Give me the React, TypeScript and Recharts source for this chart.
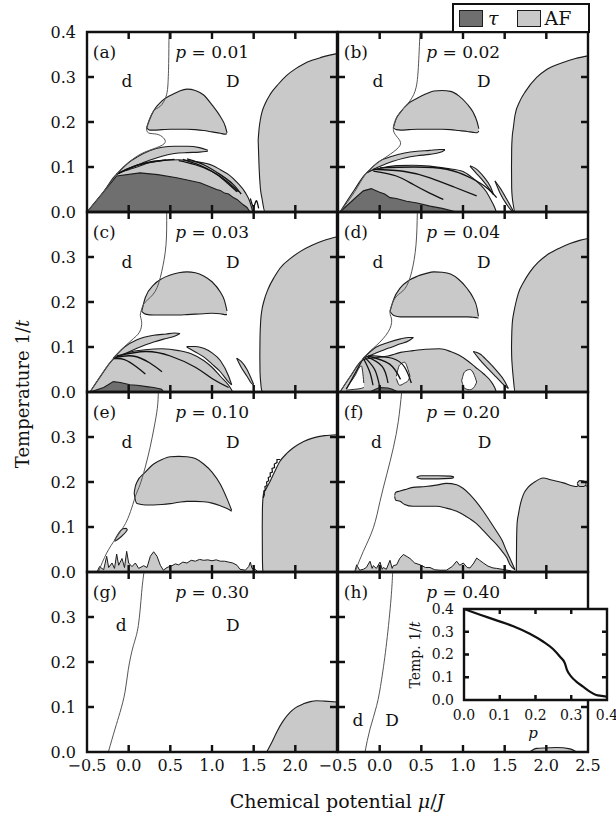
import React from "react";
import {
  Area,
  ComposedChart,
  Line,
  ReferenceArea,
  ReferenceDot,
  XAxis,
  YAxis,
} from "recharts";

type Pt = number[];

// (a) p = 0.01   [x, hi] rows sit on y=0, [x, lo, hi] rows are closed blobs
const lineA: Pt[] = [[0.484, 0.4], [0.48, 0.33], [0.47, 0.28], [0.445, 0.255], [0.38, 0.235], [0.296, 0.224], [0.236, 0.199], [0.216, 0.187], [0.236, 0.176], [0.336, 0.173], [0.416, 0.165], [0.436, 0.154], [0.336, 0.143], [0.136, 0.128], [-0.024, 0.106], [-0.144, 0.084], [-0.3, 0.045], [-0.5, 0]];
const mushA: Pt[] = [[0.216, 0.187, 0.187], [0.25, 0.182, 0.205], [0.3, 0.182, 0.225], [0.4, 0.183, 0.247], [0.5, 0.184, 0.259], [0.6, 0.184, 0.268], [0.7, 0.184, 0.273], [0.8, 0.183, 0.27], [0.9, 0.181, 0.26], [1.0, 0.178, 0.238], [1.1, 0.175, 0.212], [1.16, 0.173, 0.19], [1.18, 0.174, 0.176]];
const bananaA: Pt[] = [[-0.144, 0.084, 0.084], [0.0, 0.096, 0.11], [0.1, 0.104, 0.122], [0.25, 0.115, 0.136], [0.4, 0.124, 0.144], [0.55, 0.13, 0.146], [0.7, 0.132, 0.146], [0.85, 0.133, 0.143], [0.95, 0.135, 0.137]];
const bandA: Pt[] = [[-0.5, 0], [-0.3, 0.045], [-0.144, 0.084], [0.0, 0.094], [0.1, 0.1], [0.25, 0.11], [0.4, 0.114], [0.6, 0.116], [0.8, 0.112], [1.0, 0.104], [1.1, 0.094], [1.2, 0.083], [1.3, 0.066], [1.4, 0.043], [1.45, 0.025], [1.49, 0]];
const tauA: Pt[] = [[-0.5, 0], [-0.144, 0.08], [0.136, 0.087], [0.35, 0.083], [0.576, 0.076], [0.856, 0.065], [1.056, 0.05], [1.1, 0.048], [1.15, 0.042], [1.2, 0.04], [1.256, 0.032], [1.3, 0.028], [1.376, 0.016], [1.42, 0.01], [1.456, 0]];
const domeA: Pt[] = [[1.554, 0.16, 0.16], [1.565, 0.1, 0.185], [1.58, 0.054, 0.205], [1.6, 0.03, 0.222], [1.636, 0, 0.24], [1.7, 0, 0.262], [1.8, 0, 0.285], [1.9, 0, 0.304], [2.0, 0, 0.318], [2.1, 0, 0.329], [2.2, 0, 0.337], [2.3, 0, 0.343], [2.4, 0, 0.348], [2.5, 0, 0.352]];
const strandsA: Pt[][] = [
  [[-0.144, 0.084], [0.0, 0.097], [0.2, 0.108], [0.45, 0.116]],
  [[-0.12, 0.086], [0.1, 0.104], [0.3, 0.113], [0.55, 0.117]],
  [[0.6, 0.114], [0.8, 0.105], [1.0, 0.09], [1.15, 0.07], [1.3, 0.045]],
  [[0.65, 0.117], [0.85, 0.104], [1.05, 0.085], [1.2, 0.065], [1.32, 0.045]],
  [[0.7, 0.118], [0.9, 0.105], [1.1, 0.083], [1.25, 0.062], [1.35, 0.04]],
  [[1.46, 0.03], [1.5, 0.012], [1.53, 0.025], [1.56, 0.008]],
];

// (b) p = 0.02
const lineB: Pt[] = [[0.484, 0.4], [0.464, 0.321], [0.436, 0.276], [0.364, 0.247], [0.244, 0.221], [0.184, 0.202], [0.164, 0.187], [0.184, 0.173], [0.244, 0.158], [0.224, 0.143], [0.1, 0.125], [0.004, 0.113], [-0.156, 0.087], [-0.3, 0.045], [-0.476, 0]];
const mushB: Pt[] = [[0.164, 0.187, 0.187], [0.2, 0.183, 0.208], [0.25, 0.182, 0.222], [0.35, 0.183, 0.242], [0.45, 0.184, 0.253], [0.55, 0.184, 0.262], [0.65, 0.184, 0.269], [0.75, 0.184, 0.27], [0.85, 0.183, 0.268], [0.95, 0.181, 0.258], [1.05, 0.179, 0.24], [1.12, 0.177, 0.222], [1.17, 0.176, 0.2], [1.19, 0.18, 0.185]];
const bananaB: Pt[] = [[-0.156, 0.087, 0.087], [0.0, 0.101, 0.113], [0.15, 0.112, 0.124], [0.3, 0.12, 0.131], [0.45, 0.125, 0.135], [0.6, 0.128, 0.137], [0.72, 0.132, 0.139], [0.784, 0.138, 0.139]];
const bandB: Pt[] = [[-0.476, 0], [-0.3, 0.05], [-0.156, 0.087], [0.0, 0.097], [0.2, 0.103], [0.4, 0.104], [0.6, 0.102], [0.8, 0.097], [1.0, 0.09], [1.1, 0.078], [1.2, 0.062], [1.28, 0.045], [1.34, 0.025], [1.38, 0.01], [1.4, 0]];
const thinB1: Pt[] = [[1.084, 0.102, 0.103], [1.15, 0.088, 0.097], [1.25, 0.067, 0.078], [1.33, 0.048, 0.056], [1.364, 0.039, 0.04]];
const thinB2: Pt[] = [[1.384, 0.069, 0.069], [1.45, 0.04, 0.052], [1.52, 0.018, 0.03], [1.58, 0.004, 0.01], [1.604, 0.002, 0.002]];
const tauB: Pt[] = [[-0.476, 0], [-0.3, 0.03], [-0.196, 0.047], [-0.1, 0.052], [-0.05, 0.048], [0.0, 0.044], [0.06, 0.04], [0.124, 0.032], [0.2, 0.03], [0.324, 0.024], [0.45, 0.02], [0.604, 0.013], [0.75, 0.008], [0.924, 0]];
const domeB: Pt[] = [[1.582, 0.1, 0.1], [1.584, 0.054, 0.14], [1.59, 0.035, 0.165], [1.604, 0.015, 0.187], [1.624, 0, 0.215], [1.684, 0, 0.247], [1.75, 0, 0.268], [1.884, 0, 0.299], [2.0, 0, 0.316], [2.2, 0, 0.332], [2.35, 0, 0.341], [2.5, 0, 0.347]];
const strandsB: Pt[][] = [
  [[-0.076, 0.091], [0.2, 0.08], [0.404, 0.061], [0.6, 0.042], [0.764, 0.028]],
  [[-0.076, 0.095], [0.3, 0.09], [0.604, 0.076], [0.9, 0.055], [1.164, 0.036]],
  [[0.004, 0.098], [0.4, 0.1], [0.804, 0.095], [1.1, 0.075], [1.284, 0.054], [1.404, 0.032]],
];

// (c) p = 0.03
const lineC: Pt[] = [[0.456, 0.4], [0.448, 0.327], [0.396, 0.267], [0.316, 0.223], [0.2, 0.2], [0.156, 0.184], [0.14, 0.17], [0.156, 0.155], [0.13, 0.133], [0.016, 0.112], [-0.184, 0.075], [-0.33, 0.038], [-0.464, 0]];
const mushC: Pt[] = [[0.156, 0.179, 0.179], [0.2, 0.173, 0.21], [0.3, 0.171, 0.238], [0.4, 0.171, 0.252], [0.5, 0.171, 0.26], [0.6, 0.171, 0.265], [0.7, 0.172, 0.267], [0.8, 0.173, 0.265], [0.9, 0.174, 0.258], [1.0, 0.175, 0.245], [1.1, 0.174, 0.222], [1.15, 0.172, 0.203], [1.18, 0.172, 0.18]];
const bananaC: Pt[] = [[-0.184, 0.075, 0.075], [-0.05, 0.085, 0.1], [0.1, 0.097, 0.116], [0.3, 0.111, 0.126], [0.45, 0.119, 0.129], [0.55, 0.124, 0.131], [0.616, 0.13, 0.13]];
const bandC: Pt[] = [[-0.464, 0], [-0.33, 0.037], [-0.184, 0.073], [0.0, 0.088], [0.2, 0.094], [0.4, 0.096], [0.6, 0.092], [0.75, 0.085], [0.9, 0.07], [1.0, 0.055], [1.1, 0.035], [1.2, 0.015], [1.25, 0]];
const thinC1: Pt[] = [[0.696, 0.1, 0.101], [0.8, 0.089, 0.101], [0.9, 0.078, 0.097], [1.0, 0.062, 0.087], [1.1, 0.045, 0.07], [1.2, 0.022, 0.035], [1.236, 0.016, 0.016]];
const thinC2: Pt[] = [[1.296, 0.075, 0.075], [1.35, 0.055, 0.068], [1.42, 0.035, 0.05], [1.47, 0.02, 0.03], [1.5, 0.015, 0.017]];
const tauC: Pt[] = [[-0.464, 0], [-0.3, 0.01], [-0.184, 0.023], [-0.1, 0.021], [0.016, 0.016], [0.1, 0.015], [0.216, 0.012], [0.3, 0.01], [0.396, 0.006], [0.42, 0]];
const domeC: Pt[] = [[1.574, 0.08, 0.08], [1.576, 0.045, 0.12], [1.585, 0.02, 0.16], [1.596, 0.004, 0.179], [1.62, 0, 0.2], [1.676, 0, 0.23], [1.75, 0, 0.256], [1.816, 0, 0.275], [1.95, 0, 0.298], [2.056, 0, 0.312], [2.2, 0, 0.326], [2.35, 0, 0.337], [2.5, 0, 0.345]];
const strandsC: Pt[][] = [
  [[-0.18, 0.074], [-0.05, 0.072], [0.1, 0.055], [0.2, 0.04]],
  [[-0.16, 0.077], [0.05, 0.08], [0.25, 0.065], [0.4, 0.045]],
  [[-0.14, 0.08], [0.2, 0.09], [0.5, 0.08], [0.8, 0.055], [1.0, 0.03], [1.2, 0.01]],
];

// (d) p = 0.04
const lineD: Pt[] = [[0.452, 0.4], [0.436, 0.327], [0.384, 0.267], [0.304, 0.23], [0.204, 0.213], [0.144, 0.193], [0.124, 0.175], [0.144, 0.16], [0.104, 0.134], [-0.036, 0.104], [-0.196, 0.075], [-0.396, 0.023], [-0.476, 0]];
const mushD: Pt[] = [[0.124, 0.179, 0.179], [0.17, 0.17, 0.207], [0.25, 0.167, 0.232], [0.35, 0.167, 0.248], [0.45, 0.167, 0.257], [0.55, 0.167, 0.263], [0.65, 0.167, 0.267], [0.75, 0.167, 0.266], [0.85, 0.167, 0.262], [0.95, 0.167, 0.25], [1.05, 0.167, 0.23], [1.12, 0.166, 0.21], [1.17, 0.165, 0.185], [1.185, 0.164, 0.168]];
const bananaD: Pt[] = [[-0.196, 0.075, 0.075], [-0.05, 0.086, 0.099], [0.1, 0.097, 0.11], [0.25, 0.107, 0.118], [0.35, 0.114, 0.121], [0.404, 0.121, 0.121]];
const bandD: Pt[] = [[-0.476, 0], [-0.35, 0.035], [-0.196, 0.072], [-0.05, 0.076], [0.1, 0.08], [0.25, 0.088], [0.4, 0.092], [0.55, 0.095], [0.72, 0.096], [0.85, 0.09], [0.95, 0.082], [1.05, 0.07], [1.15, 0.055], [1.25, 0.04], [1.33, 0.025], [1.38, 0.01], [1.4, 0]];
const thinD1: Pt[] = [[1.124, 0.09, 0.09], [1.2, 0.072, 0.085], [1.3, 0.052, 0.068], [1.4, 0.033, 0.048], [1.5, 0.014, 0.024], [1.544, 0.008, 0.008]];
const holeD1: Pt[] = [[0.984, 0.025, 0.025], [1.02, 0.008, 0.045], [1.08, 0.005, 0.05], [1.13, 0.01, 0.04], [1.164, 0.022, 0.022]];
const holeD2: Pt[] = [[-0.4, 0.004, 0.008], [-0.3, 0.006, 0.035], [-0.22, 0.008, 0.058], [-0.19, 0.01, 0.02]];
const holeD3: Pt[] = [[0.2, 0.03, 0.035], [0.24, 0.015, 0.06], [0.3, 0.02, 0.066], [0.34, 0.025, 0.05], [0.364, 0.035, 0.035]];
const tauD: Pt[] = [[-0.12, 0], [-0.05, 0.006], [0.0, 0.01], [0.1, 0.009], [0.15, 0.006], [0.22, 0]];
const domeD: Pt[] = [[1.582, 0.1, 0.1], [1.584, 0.08, 0.12], [1.59, 0.06, 0.15], [1.604, 0.03, 0.171], [1.624, 0, 0.19], [1.664, 0, 0.219], [1.73, 0, 0.245], [1.804, 0, 0.267], [1.9, 0, 0.288], [2.004, 0, 0.304], [2.15, 0, 0.319], [2.284, 0, 0.33], [2.4, 0, 0.337], [2.5, 0, 0.341]];
const strandsD: Pt[][] = [
  [[-0.196, 0.075], [-0.12, 0.045], [-0.08, 0.015]],
  [[-0.18, 0.077], [-0.06, 0.05], [0.0, 0.012]],
  [[-0.16, 0.079], [0.03, 0.057], [0.1, 0.02]],
  [[-0.14, 0.08], [0.12, 0.062], [0.25, 0.028]],
  [[-0.12, 0.081], [0.15, 0.075], [0.3, 0.055], [0.38, 0.02]],
  [[-0.196, 0.075], [-0.3, 0.04], [-0.4, 0.006]],
];

// (e) p = 0.10
const lineE: Pt[] = [[0.356, 0.4], [0.344, 0.364], [0.304, 0.32], [0.256, 0.276], [0.196, 0.231], [0.136, 0.194], [0.088, 0.172], [0.036, 0.142], [-0.024, 0.113], [-0.084, 0.094], [-0.164, 0.072], [-0.264, 0.042], [-0.364, 0]];
const tearE: Pt[] = [[-0.17, 0.068, 0.07], [-0.12, 0.074, 0.086], [-0.07, 0.082, 0.096], [-0.03, 0.09, 0.097], [-0.015, 0.094, 0.094]];
const mushE: Pt[] = [[0.066, 0.176, 0.176], [0.08, 0.16, 0.19], [0.1, 0.152, 0.2], [0.2, 0.149, 0.222], [0.3, 0.149, 0.24], [0.4, 0.15, 0.25], [0.5, 0.152, 0.256], [0.6, 0.155, 0.257], [0.7, 0.157, 0.256], [0.8, 0.157, 0.252], [0.9, 0.156, 0.24], [1.0, 0.153, 0.222], [1.1, 0.147, 0.195], [1.18, 0.141, 0.163], [1.236, 0.135, 0.137]];
const scribE: Pt[] = [[-0.38, 0], [-0.35, 0.012], [-0.3, 0.005], [-0.264, 0.035], [-0.24, 0.01], [-0.2, 0.02], [-0.17, 0.008], [-0.144, 0.04], [-0.12, 0.015], [-0.08, 0.03], [-0.05, 0.01], [-0.024, 0.046], [0.0, 0.02], [0.04, 0.012], [0.08, 0.02], [0.12, 0.008], [0.18, 0.014], [0.22, 0.01], [0.26, 0.035], [0.3, 0.045], [0.34, 0.035], [0.38, 0.015], [0.416, 0.004], [0.46, 0.01], [0.52, 0.014], [0.56, 0.018], [0.6, 0.016], [0.65, 0.022], [0.7, 0.02], [0.75, 0.026], [0.8, 0.024], [0.85, 0.028], [0.9, 0.026], [0.95, 0.027], [1.0, 0.025], [1.05, 0.027], [1.1, 0.024], [1.15, 0.024], [1.2, 0.022], [1.25, 0.02], [1.3, 0.015], [1.336, 0.006], [1.4, 0.004], [1.44, 0.012], [1.46, 0.022], [1.48, 0.008], [1.52, 0.006], [1.55, 0]];
const domeE: Pt[] = [[1.603, 0.1, 0.1], [1.605, 0.03, 0.14], [1.61, 0.003, 0.16], [1.616, 0, 0.172], [1.65, 0, 0.185], [1.696, 0, 0.201], [1.75, 0, 0.222], [1.816, 0, 0.246], [1.9, 0, 0.264], [1.976, 0, 0.276], [2.1, 0, 0.29], [2.216, 0, 0.298], [2.35, 0, 0.303], [2.5, 0, 0.305]];
const squigE: Pt[] = [[1.615, 0.165], [1.628, 0.172], [1.622, 0.18], [1.64, 0.183], [1.635, 0.19], [1.66, 0.192], [1.655, 0.2], [1.68, 0.203], [1.675, 0.21], [1.7, 0.212], [1.698, 0.22], [1.725, 0.222], [1.72, 0.23], [1.75, 0.232], [1.748, 0.24], [1.78, 0.243], [1.78, 0.25], [1.82, 0.25]];

// (f) p = 0.20
const lineF: Pt[] = [[0.264, 0.4], [0.224, 0.335], [0.164, 0.276], [0.084, 0.216], [0.004, 0.157], [-0.076, 0.098], [-0.196, 0.046], [-0.296, 0]];
const lensF: Pt[] = [[0.444, 0.21, 0.211], [0.5, 0.207, 0.214], [0.7, 0.207, 0.214], [0.85, 0.208, 0.213], [0.892, 0.21, 0.211]];
const cometF: Pt[] = [[0.18, 0.168, 0.17], [0.19, 0.16, 0.177], [0.244, 0.157, 0.18], [0.3, 0.15, 0.183], [0.4, 0.146, 0.188], [0.55, 0.146, 0.19], [0.68, 0.146, 0.193], [0.8, 0.142, 0.197], [0.924, 0.135, 0.194], [1.0, 0.128, 0.186], [1.084, 0.118, 0.172], [1.15, 0.109, 0.158], [1.244, 0.092, 0.135], [1.32, 0.077, 0.114], [1.404, 0.061, 0.09], [1.47, 0.046, 0.07], [1.524, 0.032, 0.046], [1.564, 0.016, 0.03], [1.624, 0.005, 0.005]];
const scribF: Pt[] = [[-0.3, 0], [-0.276, 0.016], [-0.24, 0.004], [-0.196, 0.006], [-0.16, 0.01], [-0.116, 0.024], [-0.09, 0.008], [-0.076, 0.014], [-0.04, 0.008], [0.004, 0.022], [0.03, 0.006], [0.044, 0.01], [0.08, 0.006], [0.124, 0.026], [0.15, 0.008], [0.164, 0.014], [0.204, 0.016], [0.24, 0.03], [0.284, 0.039], [0.33, 0.034], [0.364, 0.03], [0.42, 0.02], [0.484, 0.016], [0.55, 0.01], [0.604, 0.01], [0.66, 0.005], [0.724, 0.004], [0.8, 0.004], [0.87, 0.012], [0.924, 0.024], [0.96, 0.015], [1.004, 0.02], [1.05, 0.01], [1.084, 0.009], [1.13, 0.02], [1.164, 0.031], [1.2, 0.026], [1.244, 0.02], [1.3, 0.013], [1.36, 0.009], [1.404, 0.008], [1.47, 0.006], [1.564, 0.003], [1.6, 0]];
const domeF: Pt[] = [[1.64, 0, 0.002], [1.643, 0, 0.07], [1.65, 0, 0.11], [1.664, 0, 0.127], [1.69, 0, 0.152], [1.724, 0, 0.172], [1.78, 0, 0.188], [1.844, 0, 0.198], [1.964, 0, 0.209], [2.05, 0, 0.205], [2.204, 0, 0.198], [2.364, 0, 0.19], [2.41, 0, 0.196], [2.444, 0, 0.194], [2.5, 0, 0.19]];
const blobF: Pt[] = [[2.37, 0.196, 0.197], [2.4, 0.19, 0.203], [2.45, 0.19, 0.202], [2.48, 0.195, 0.196]];

// (g) p = 0.30
const lineG: Pt[] = [[0.184, 0.4], [0.156, 0.355], [0.116, 0.281], [0.056, 0.236], [-0.004, 0.184], [-0.044, 0.133], [-0.104, 0.088], [-0.164, 0.051], [-0.244, 0]];
const domeG: Pt[] = [[1.656, 0], [1.72, 0.022], [1.776, 0.044], [1.85, 0.068], [1.936, 0.088], [2.0, 0.098], [2.096, 0.107], [2.18, 0.112], [2.256, 0.114], [2.35, 0.113], [2.5, 0.111]];

// (h) p = 0.40
const lineH: Pt[] = [[0.156, 0.4], [0.136, 0.34], [0.084, 0.244], [0.024, 0.162], [-0.036, 0.103], [-0.116, 0.051], [-0.176, 0]];
const blobH: Pt[] = [[1.8, 0], [1.884, 0.008], [2.0, 0.009], [2.124, 0.01], [2.284, 0.007], [2.364, 0]];

// inset: transition temperature vs p
const insetP = [0, 0.045, 0.091, 0.138, 0.184, 0.221, 0.249, 0.268, 0.282, 0.288, 0.3, 0.314, 0.333, 0.352, 0.37, 0.384, 0.398];
const insetT = [0.4, 0.375, 0.35, 0.324, 0.291, 0.257, 0.224, 0.191, 0.162, 0.132, 0.103, 0.081, 0.059, 0.037, 0.022, 0.018, 0.015];

const X_DOM = [-0.5, 2.5];
const Y_DOM = [0, 0.4];
const P_DOM = [0, 0.4];
const xTicks = [-0.5, 0, 0.5, 1, 1.5, 2, 2.5];
const yTicks = [0, 0.1, 0.2, 0.3, 0.4];
const innerX = [0, 0.5, 1, 1.5, 2];
const innerY = [0.1, 0.2, 0.3];
const insetTicks = [0, 0.1, 0.2, 0.3, 0.4];

const INK = "#111";
const EDGE = "#1c1c1c";
const LIGHT = "#c9c9c9";
const DARK = "#6f6f6f";
const FONT = "'DejaVu Serif', serif";

const W = 250;
const H = 180;
const M = 14;
const PX = [87, 338];
const PY = [32, 212, 392, 572];
const IW = 143;
const IH = 91;

type PanelCfg = {
  tag: string;
  p: string;
  col: number;
  row: number;
  line: Pt[];
  light: Pt[][];
  rough?: Pt[][];
  holes?: Pt[][];
  dark?: Pt[][];
  strands?: Pt[][];
  squiggle?: Pt[];
  d: number[];
  D: number[];
};

const panels: PanelCfg[] = [
  { tag: "a", p: "0.01", col: 0, row: 0, line: lineA, light: [bandA, bananaA, mushA, domeA], dark: [tauA], strands: strandsA, d: [-0.02, 0.278], D: [1.25, 0.278] },
  { tag: "b", p: "0.02", col: 1, row: 0, line: lineB, light: [bandB, thinB1, thinB2, bananaB, mushB, domeB], dark: [tauB], strands: strandsB, d: [-0.02, 0.278], D: [1.25, 0.278] },
  { tag: "c", p: "0.03", col: 0, row: 1, line: lineC, light: [bandC, thinC1, thinC2, bananaC, mushC, domeC], dark: [tauC], strands: strandsC, d: [-0.02, 0.276], D: [1.25, 0.276] },
  { tag: "d", p: "0.04", col: 1, row: 1, line: lineD, light: [bandD, thinD1, bananaD, mushD, domeD], holes: [holeD1, holeD2, holeD3], dark: [tauD], strands: strandsD, d: [-0.02, 0.276], D: [1.25, 0.276] },
  { tag: "e", p: "0.10", col: 0, row: 2, line: lineE, light: [tearE, mushE, domeE], rough: [scribE], squiggle: squigE, d: [-0.02, 0.276], D: [1.25, 0.276] },
  { tag: "f", p: "0.20", col: 1, row: 2, line: lineF, light: [lensF, cometF, domeF, blobF], rough: [scribF], d: [-0.04, 0.276], D: [1.26, 0.276] },
  { tag: "g", p: "0.30", col: 0, row: 3, line: lineG, light: [domeG], d: [-0.09, 0.27], D: [1.25, 0.27] },
  { tag: "h", p: "0.40", col: 1, row: 3, line: lineH, light: [blobH], d: [-0.26, 0.058], D: [0.15, 0.058] },
];

const rng = (s: Pt[]) => s.map((t) => ({ x: t[0], r: t.length === 2 ? [0, t[1]] : [t[1], t[2]] }));
const xy = (s: Pt[]) => s.map((t) => ({ x: t[0], y: t[1] }));
const insetData = insetP.map((p, i) => ({ x: p, y: insetT[i] }));

// frame walked round the plot area, stepping inward and back at every tick value
const frameWalk = (xd: number[], yd: number[], xs: number[], ys: number[], dx: number, dy: number) => {
  const pts: { x: number; y: number }[] = [{ x: xd[0], y: yd[0] }];
  xs.forEach((t) => pts.push({ x: t, y: yd[0] }, { x: t, y: yd[0] + dy }, { x: t, y: yd[0] }));
  pts.push({ x: xd[1], y: yd[0] });
  ys.forEach((v) => pts.push({ x: xd[1], y: v }, { x: xd[1] - dx, y: v }, { x: xd[1], y: v }));
  pts.push({ x: xd[1], y: yd[1] });
  [...xs].reverse().forEach((t) => pts.push({ x: t, y: yd[1] }, { x: t, y: yd[1] - dy }, { x: t, y: yd[1] }));
  pts.push({ x: xd[0], y: yd[1] });
  [...ys].reverse().forEach((v) => pts.push({ x: xd[0], y: v }, { x: xd[0] + dx, y: v }, { x: xd[0], y: v }));
  pts.push({ x: xd[0], y: yd[0] });
  return pts;
};

// inner ends of the tick marks, with the outward direction on screen
type Mark = { x: number; y: number; ux: number; uy: number };
const marksOf = (xd: number[], yd: number[], xs: number[], ys: number[], dx: number, dy: number): Mark[] => [
  ...xs.map((t) => ({ x: t, y: yd[0] + dy, ux: 0, uy: 1 })),
  ...xs.map((t) => ({ x: t, y: yd[1] - dy, ux: 0, uy: -1 })),
  ...ys.map((v) => ({ x: xd[0] + dx, y: v, ux: -1, uy: 0 })),
  ...ys.map((v) => ({ x: xd[1] - dx, y: v, ux: 1, uy: 0 })),
];

const TICK = 7;
const ITICK = 5;
const pdx = (TICK * (X_DOM[1] - X_DOM[0])) / W;
const pdy = (TICK * (Y_DOM[1] - Y_DOM[0])) / H;
const idx = (ITICK * (P_DOM[1] - P_DOM[0])) / IW;
const idy = (ITICK * (Y_DOM[1] - Y_DOM[0])) / IH;
const panelFrame = frameWalk(X_DOM, Y_DOM, innerX, innerY, pdx, pdy);
const panelMarks = marksOf(X_DOM, Y_DOM, innerX, innerY, pdx, pdy);
const insetFrame = frameWalk(P_DOM, Y_DOM, innerY, innerY, idx, idy);
const insetMarks = marksOf(P_DOM, Y_DOM, innerY, innerY, idx, idy);

const fmt = (v: number) => (v < 0 ? "\u2212" : "") + Math.abs(v).toFixed(1);

const note = (key: string, x: number, y: number, content: React.ReactNode, anchor: "start" | "middle" = "start") => (
  <ReferenceDot
    key={key}
    x={x}
    y={y}
    r={1}
    ifOverflow="visible"
    shape={(pr: any) => (
      <text x={pr.cx} y={pr.cy} textAnchor={anchor} fontSize={17} fill={INK} fontFamily={FONT}>
        {content}
      </text>
    )}
  />
);

const tickMarks = (marks: Mark[], len: number, width: number) =>
  marks.map((m, i) => (
    <ReferenceDot
      key={"m" + i}
      x={m.x}
      y={m.y}
      r={1}
      ifOverflow="visible"
      shape={(pr: any) => (
        <line x1={pr.cx} y1={pr.cy} x2={pr.cx + m.ux * len} y2={pr.cy + m.uy * len} stroke={INK} strokeWidth={width} />
      )}
    />
  ));

function Panel({ cfg }: { cfg: PanelCfg }) {
  const left = cfg.col === 0;
  const bottom = cfg.row === 3;
  const yw = left ? 48 : 0;
  const xh = bottom ? 26 : 0;
  const ml = left ? M : 24;
  const xt = left ? xTicks.slice(0, -1) : xTicks;
  const yt = cfg.row === 0 ? yTicks : yTicks.slice(0, -1);

  return (
    <div style={{ position: "absolute", left: PX[cfg.col] - ml - yw, top: PY[cfg.row] - M }}>
      <ComposedChart width={ml + yw + W + M} height={M + H + xh + M} margin={{ top: M, right: M, bottom: M, left: ml }}>
        <XAxis
          dataKey="x"
          type="number"
          domain={X_DOM}
          ticks={xt}
          interval={0}
          height={xh}
          tick={bottom ? { fontSize: 16, fill: INK } : false}
          tickFormatter={fmt}
          tickLine={false}
          tickSize={0}
          tickMargin={8}
          axisLine={false}
        />
        <YAxis
          type="number"
          domain={Y_DOM}
          ticks={yt}
          interval={0}
          width={yw}
          tick={left ? { fontSize: 16, fill: INK } : false}
          tickFormatter={fmt}
          tickLine={false}
          tickSize={0}
          tickMargin={11}
          axisLine={false}
        />

        {cfg.light.map((s, i) => (
          <Area key={"l" + i} data={rng(s)} dataKey="r" type="monotone" fill={LIGHT} fillOpacity={1} stroke={EDGE} strokeWidth={1.1} dot={false} activeDot={false} isAnimationActive={false} />
        ))}
        {(cfg.rough ?? []).map((s, i) => (
          <Area key={"r" + i} data={rng(s)} dataKey="r" type="linear" fill={LIGHT} fillOpacity={1} stroke={EDGE} strokeWidth={1} dot={false} activeDot={false} isAnimationActive={false} />
        ))}
        {(cfg.holes ?? []).map((s, i) => (
          <Area key={"h" + i} data={rng(s)} dataKey="r" type="monotone" fill="#fff" fillOpacity={1} stroke={EDGE} strokeWidth={0.9} dot={false} activeDot={false} isAnimationActive={false} />
        ))}
        {(cfg.dark ?? []).map((s, i) => (
          <Area key={"k" + i} data={rng(s)} dataKey="r" type="linear" fill={DARK} fillOpacity={1} stroke={EDGE} strokeWidth={1.1} dot={false} activeDot={false} isAnimationActive={false} />
        ))}
        {(cfg.strands ?? []).map((s, i) => (
          <Line key={"s" + i} data={xy(s)} dataKey="y" type="natural" stroke={INK} strokeWidth={1.3} dot={false} activeDot={false} isAnimationActive={false} />
        ))}
        {cfg.squiggle && (
          <Line data={xy(cfg.squiggle)} dataKey="y" type="linear" stroke={INK} strokeWidth={1.2} dot={false} activeDot={false} isAnimationActive={false} />
        )}
        <Line data={xy(cfg.line)} dataKey="y" type="natural" stroke="#555" strokeWidth={1} dot={false} activeDot={false} isAnimationActive={false} />

        <Line data={panelFrame} dataKey="y" type="linear" stroke={INK} strokeWidth={2.4} strokeLinecap="square" strokeLinejoin="miter" dot={false} activeDot={false} isAnimationActive={false} />
        {tickMarks(panelMarks, TICK, 1.4)}

        {note("tag", -0.43, 0.343, `(${cfg.tag})`)}
        {note("p", 0.56, 0.343, <><tspan fontStyle="italic">p</tspan>{" = " + cfg.p}</>)}
        {note("d", cfg.d[0], cfg.d[1], "d", "middle")}
        {note("D", cfg.D[0], cfg.D[1], "D", "middle")}
      </ComposedChart>
    </div>
  );
}

function Inset() {
  const yw = 40;
  return (
    <div style={{ position: "absolute", left: 464 - M - yw, top: 609 - M }}>
      <ComposedChart width={M + yw + IW + M} height={M + IH + 24 + M} margin={{ top: M, right: M, bottom: M, left: M }}>
        <XAxis dataKey="x" type="number" domain={P_DOM} ticks={insetTicks} interval={0} height={24} tick={{ fontSize: 14, fill: INK }} tickFormatter={fmt} tickLine={false} tickSize={0} tickMargin={10} axisLine={false} />
        <YAxis type="number" domain={Y_DOM} ticks={insetTicks} interval={0} width={yw} tick={{ fontSize: 14, fill: INK }} tickFormatter={fmt} tickLine={false} tickSize={0} tickMargin={10} axisLine={false} />
        <ReferenceArea x1={P_DOM[0]} x2={P_DOM[1]} y1={Y_DOM[0]} y2={Y_DOM[1]} fill="#fff" fillOpacity={1} stroke="none" />
        <Line data={insetData} dataKey="y" type="monotone" stroke={INK} strokeWidth={2.2} dot={false} activeDot={false} isAnimationActive={false} />
        <Line data={insetFrame} dataKey="y" type="linear" stroke={INK} strokeWidth={2.4} strokeLinecap="square" strokeLinejoin="miter" dot={false} activeDot={false} isAnimationActive={false} />
        {tickMarks(insetMarks, ITICK, 1.3)}
      </ComposedChart>
    </div>
  );
}

function Legend() {
  const swatch = (bg: string) => ({
    width: 24,
    height: 17,
    background: bg,
    border: `1.5px solid ${EDGE}`,
    boxSizing: "border-box" as const,
  });
  return (
    <div
      style={{
        position: "absolute",
        left: 452,
        top: 3,
        width: 138,
        height: 30,
        boxSizing: "border-box",
        border: `2.5px solid ${INK}`,
        background: "#fff",
        display: "flex",
        alignItems: "center",
        fontSize: 19,
        color: INK,
      }}
    >
      <div style={{ ...swatch(DARK), marginLeft: 5 }} />
      <span style={{ fontStyle: "italic", marginLeft: 5 }}>τ</span>
      <div style={{ ...swatch(LIGHT), marginLeft: 18 }} />
      <span style={{ marginLeft: 4 }}>AF</span>
    </div>
  );
}

export default function App() {
  return (
    <div style={{ position: "absolute", left: 0, top: 0, width: 616, height: 819, background: "#fff", fontFamily: FONT, color: INK }}>
      {panels.map((cfg) => (
        <Panel key={cfg.tag} cfg={cfg} />
      ))}
      <Inset />
      <Legend />
      <div style={{ position: "absolute", left: 22, top: 394, transform: "translate(-50%, -50%) rotate(-90deg)", whiteSpace: "nowrap", fontSize: 18 }}>
        Temperature 1/<i>t</i>
      </div>
      <div style={{ position: "absolute", left: 337, top: 801, transform: "translate(-50%, -50%)", whiteSpace: "nowrap", fontSize: 19 }}>
        Chemical potential <i>μ</i>/<i>J</i>
      </div>
      <div style={{ position: "absolute", left: 415, top: 655, transform: "translate(-50%, -50%) rotate(-90deg)", whiteSpace: "nowrap", fontSize: 14 }}>
        Temp. 1/<i>t</i>
      </div>
      <div style={{ position: "absolute", left: 533, top: 733, transform: "translate(-50%, -50%)", fontSize: 15, fontStyle: "italic" }}>p</div>
    </div>
  );
}
